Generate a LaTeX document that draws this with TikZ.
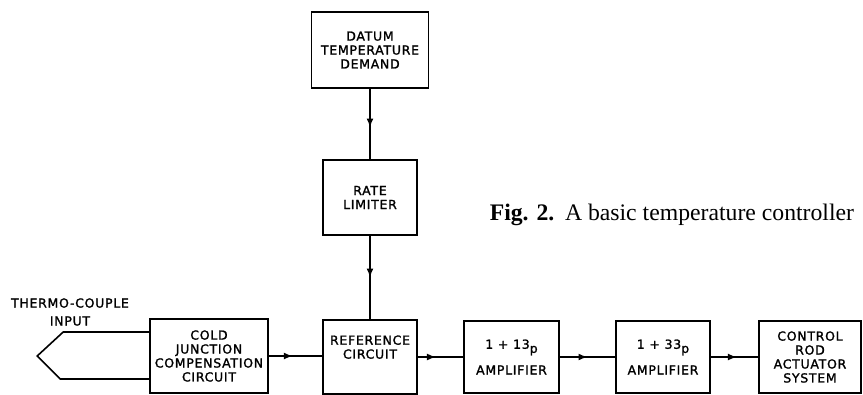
\documentclass[tikz,border=0pt]{standalone}
\usepackage{fontspec}
\setmainfont{Liberation Serif}
\newfontfamily\lettering[LetterSpace=6,FakeBold=1.5]{DejaVu Sans}
\usetikzlibrary{arrows.meta,positioning,decorations.markings}

\begin{document}
\begin{tikzpicture}[
    x=1bp, y=-1bp,
    line width=1.6bp,
    block/.style={
        rectangle, draw=black, line width=1.6bp,
        minimum width=94bp, minimum height=74bp,
        align=center, font=\lettering\fontsize{12.5}{14}\selectfont,
        inner sep=2pt,
    },
    flow/.style={
        line width=1.6bp,
        postaction={decorate},
        decoration={markings,
            mark=at position #1 with {\arrow{Latex[length=9bp,width=7bp]}}},
    },
    flow/.default=0.5,
    tclabel/.style={font=\lettering\fontsize{12.5}{18}\selectfont, align=center},
    caption/.style={font=\fontsize{23.8}{26}\selectfont, anchor=west, inner sep=0pt},
]

\useasboundingbox (0,0) rectangle (863,394);

% =============================================================
% DEMAND CHAIN (top)
% =============================================================
\node[block, minimum width=117bp, minimum height=76bp] (datum) at (370,50) {
    DATUM\\TEMPERATURE\\DEMAND
};
\node[block, minimum height=75bp] (rate) at (370,197.5) {
    RATE\\LIMITER
};

% =============================================================
% MAIN LOOP (bottom row)
% =============================================================
\node[block] (ref) at (370,357) {
    REFERENCE\\CIRCUIT\\[6bp]~
};
\node[block, minimum width=118bp] (cold) at (209,356) {
    COLD\\JUNCTION\\COMPENSATION\\CIRCUIT
};
\node[block, minimum width=95bp, minimum height=72bp] (amp1) at (511.5,357) {
    1 + 13\raisebox{-0.6ex}{p}\\[9bp]AMPLIFIER
};
\node[block, minimum height=72bp] (amp2) at (663,357) {
    1 + 33\raisebox{-0.6ex}{p}\\[9bp]AMPLIFIER
};
\node[block, minimum width=102bp, minimum height=72bp] (rod) at (810,357) {
    CONTROL\\ROD\\ACTUATOR\\SYSTEM
};

% Thermo-couple input
\draw ([yshift=24bp]cold.west) -- ++(-86,0) -- ++(-26,24) -- ++(23,23)
    -- ([yshift=-23bp]cold.west);
\node[tclabel] (tclbl) at (70,312) {THERMO-COUPLE\\INPUT};

% Connectors
\draw[flow=0.55] (datum) -- (rate);
\draw[flow=0.5] (rate) -- (ref);
\draw[flow=0.45] (cold.east) -- (cold.east -| ref.west);
\draw[flow=0.4] (ref) -- (amp1);
\draw[flow=0.5] (amp1) -- (amp2);
\draw[flow=0.55] (amp2) -- (rod);

% Caption
\node[caption] (cap) at (489,215) {\textbf{Fig. 2.}\hspace{0.45em}A basic temperature controller};

\end{tikzpicture}
\end{document}
